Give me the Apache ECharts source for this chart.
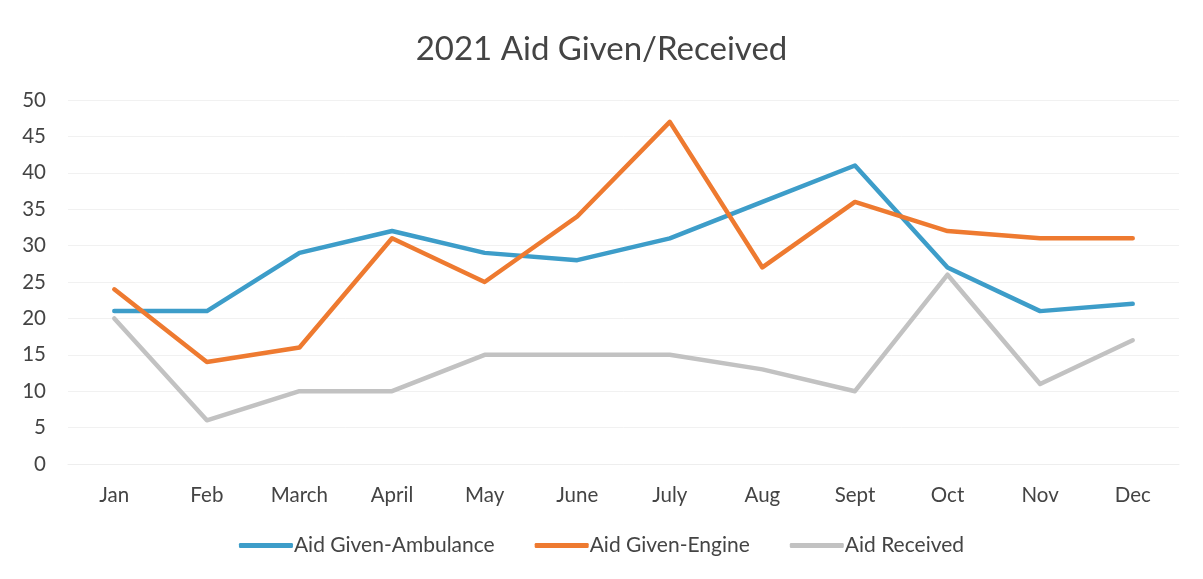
<!DOCTYPE html>
<html>
<head>
<meta charset="utf-8">
<script src="https://cdn.jsdelivr.net/npm/echarts@6/dist/echarts.min.js"></script>
<style>
  html, body { margin: 0; padding: 0; background: #fff; }
  #chart { width: 1203px; height: 579px; }
</style>
</head>
<body>
<div id="chart"></div>
<script>
const months = ['Jan', 'Feb', 'March', 'April', 'May', 'June', 'July', 'Aug', 'Sept', 'Oct', 'Nov', 'Dec'];
const ambulance = [21, 21, 29, 32, 29, 28, 31, 36, 41, 27, 21, 22];
const engine = [24, 14, 16, 31, 25, 34, 47, 27, 36, 32, 31, 31];
const received = [20, 6, 10, 10, 15, 15, 15, 13, 10, 26, 11, 17];

const font = 'Lato, "Open Sans", sans-serif';

function lineSeries(name, data, color) {
  return {
    name: name,
    type: 'line',
    data: data,
    symbol: 'none',
    lineStyle: { width: 4.5, color: color, cap: 'round', join: 'round' },
    itemStyle: { color: color }
  };
}

const chart = echarts.init(document.getElementById('chart'));
chart.setOption({
  animation: false,
  backgroundColor: '#ffffff',
  title: {
    text: '2021 Aid Given/Received',
    left: 'center',
    top: 28,
    textStyle: { fontFamily: font, fontSize: 33, fontWeight: 'normal', color: '#444' }
  },
  legend: {
    bottom: 18,
    left: 'center',
    itemWidth: 54,
    itemHeight: 5,
    itemGap: 40,
    icon: 'roundRect',
    textStyle: { fontFamily: font, fontSize: 21, color: '#444', padding: [0, 0, 0, -4] },
    data: ['Aid Given-Ambulance', 'Aid Given-Engine', 'Aid Received']
  },
  grid: { left: 68, right: 24, top: 100, bottom: 115 },
  xAxis: {
    type: 'category',
    data: months,
    boundaryGap: true,
    axisLine: { show: true, lineStyle: { color: '#eeeeee' } },
    axisTick: { show: false },
    axisLabel: { fontFamily: font, fontSize: 20.5, color: '#444', margin: 21 }
  },
  yAxis: {
    type: 'value',
    min: 0,
    max: 50,
    interval: 5,
    axisLine: { show: false },
    axisTick: { show: false },
    splitLine: { lineStyle: { color: '#f1f1f1', width: 1 } },
    axisLabel: { fontFamily: font, fontSize: 20.5, color: '#444', margin: 22 }
  },
  series: [
    lineSeries('Aid Given-Ambulance', ambulance, '#3d9dc9'),
    lineSeries('Aid Given-Engine', engine, '#ee7a30'),
    lineSeries('Aid Received', received, '#c2c2c2')
  ]
});
</script>
</body>
</html>
